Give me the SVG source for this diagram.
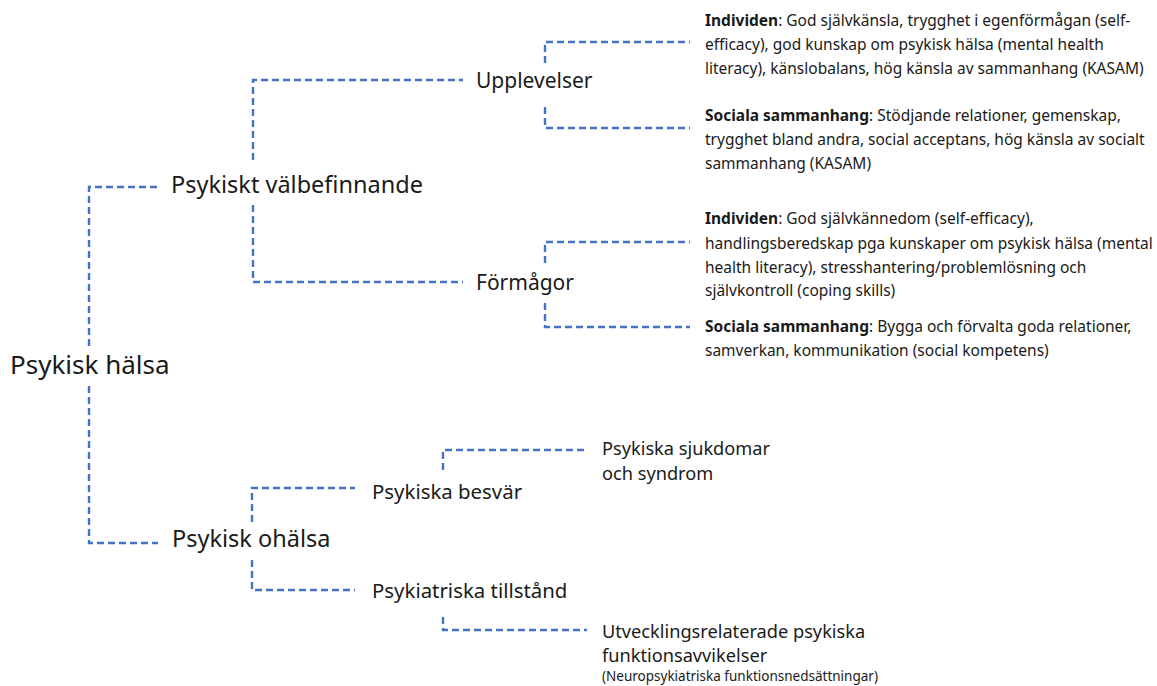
<svg xmlns="http://www.w3.org/2000/svg" width="1157" height="686" viewBox="0 0 1157 686">
<style>
.c{fill:none;stroke:#4472C4;stroke-width:2.4;stroke-dasharray:7 4}
text{font-family:"Noto Sans","Open Sans","Liberation Sans",sans-serif;fill:#1a1a1a}
.l0{font-size:26px}
.l1{font-size:23.5px}
.l2{font-size:21px}
.l3{font-size:20.4px}
.l4{font-size:18.2px}
.sm{font-size:13.5px}
.d{font-size:15.5px}
.b{font-weight:bold}
</style>
<rect width="1157" height="686" fill="#fff"/>
<g id="connectors">
<path class="c" d="M157,187 H89 V346"/>
<path class="c" d="M89,386 V543 H158"/>
<path class="c" d="M253,160 V80 H463"/>
<path class="c" d="M253,205 V282 H463"/>
<path class="c" d="M545,63 V42 H690"/>
<path class="c" d="M545,107 V128 H690"/>
<path class="c" d="M545,263 V242 H690"/>
<path class="c" d="M545,303 V327 H690"/>
<path class="c" d="M252,522 V488 H355"/>
<path class="c" d="M252,560 V590 H355"/>
<path class="c" d="M443,470 V450 H587"/>
<path class="c" d="M443,617 V630 H587"/>
</g>
<g id="n-root"><text class="l0" x="10" y="374">Psykisk hälsa</text></g>
<g id="n-valbefinnande"><text class="l1" x="171" y="193">Psykiskt välbefinnande</text></g>
<g id="n-ohalsa"><text class="l1" x="172" y="547">Psykisk ohälsa</text></g>
<g id="n-upplevelser"><text class="l2" x="476" y="88">Upplevelser</text></g>
<g id="n-formagor"><text class="l2" x="476" y="290">Förmågor</text></g>
<g id="n-besvar"><text class="l3" x="372" y="499">Psykiska besvär</text></g>
<g id="n-tillstand"><text class="l3" x="372" y="598">Psykiatriska tillstånd</text></g>
<g id="n-upp-individ"><text class="d" x="705" y="26"><tspan class="b">Individen</tspan>: God självkänsla, trygghet i egenförmågan (self-</text><text class="d" x="705" y="50">efficacy), god kunskap om psykisk hälsa (mental health</text><text class="d" x="705" y="74">literacy), känslobalans, hög känsla av sammanhang (KASAM)</text></g>
<g id="n-upp-social"><text class="d" x="705" y="121"><tspan class="b">Sociala sammanhang</tspan>: Stödjande relationer, gemenskap,</text><text class="d" x="705" y="145">trygghet bland andra, social acceptans, hög känsla av socialt</text><text class="d" x="705" y="169">sammanhang (KASAM)</text></g>
<g id="n-form-individ"><text class="d" x="705" y="224"><tspan class="b">Individen</tspan>: God självkännedom (self-efficacy),</text><text class="d" x="705" y="249">handlingsberedskap pga kunskaper om psykisk hälsa (mental</text><text class="d" x="705" y="273">health literacy), stresshantering/problemlösning och</text><text class="d" x="705" y="296">självkontroll (coping skills)</text></g>
<g id="n-form-social"><text class="d" x="705" y="332"><tspan class="b">Sociala sammanhang</tspan>: Bygga och förvalta goda relationer,</text><text class="d" x="705" y="356">samverkan, kommunikation (social kompetens)</text></g>
<g id="n-sjukdomar"><text class="l4" x="602" y="455">Psykiska sjukdomar</text><text class="l4" x="602" y="480">och syndrom</text></g>
<g id="n-utveckling"><text class="l4" x="602" y="638">Utvecklingsrelaterade psykiska</text><text class="l4" x="602" y="662">funktionsavvikelser</text><text class="sm" x="602" y="681">(Neuropsykiatriska funktionsnedsättningar)</text></g>
</svg>
